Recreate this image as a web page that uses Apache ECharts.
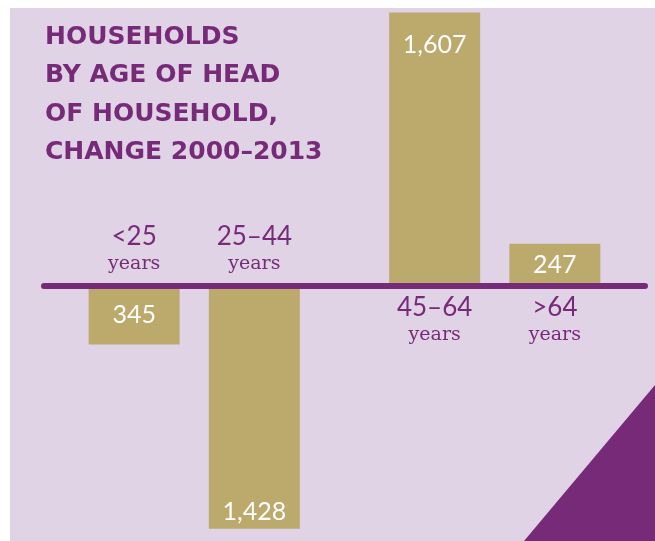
<!DOCTYPE html>
<html>
<head>
<meta charset="utf-8">
<script src="https://cdn.jsdelivr.net/npm/echarts@6/dist/echarts.min.js"></script>
<style>
html,body{margin:0;padding:0;background:#ffffff;}
#chart{width:655px;height:541px;}
</style>
</head>
<body>
<div id="chart"></div>
<script>
// ---- data ----
const titleLines = ['HOUSEHOLDS', 'BY AGE OF HEAD', 'OF HOUSEHOLD,', 'CHANGE 2000–2013'];
const categories = ['<25', '25–44', '45–64', '>64'];
const unitLabel = 'years';
const changeValues = [-345, -1428, 1607, 247];

// ---- layout (not data) ----
const slotCount = 10;
const slotOf = [1, 3, 6, 8];
const labelPlace = ['inside', 'insideBottom', 'insideTop', 'inside'];
const labelGap = [0, 4, 20, 0];

const PURPLE = '#772a77';
const LAV = '#e0d3e6';
const TAN = '#bca96c';

const slots = new Array(slotCount).fill('');
const barData = new Array(slotCount).fill(null);
const nameData = new Array(slotCount).fill(null);
categories.forEach((c, i) => {
  slots[slotOf[i]] = c;
  const v = changeValues[i];
  barData[slotOf[i]] = { value: v, label: { position: labelPlace[i], distance: labelGap[i] } };
  nameData[slotOf[i]] = {
    value: 0,
    label: v < 0 ? { position: 'top', distance: 8 } : { position: 'bottom', distance: 8 }
  };
});

const fmt = n => Math.abs(n).toLocaleString('en-US');

const chart = echarts.init(document.getElementById('chart'));
const rich = {
  a: { fontFamily: 'Lato', fontSize: 26, color: PURPLE, lineHeight: 27, align: 'center' },
  b: { fontFamily: 'DejaVu Serif', fontSize: 19, color: PURPLE, lineHeight: 27, align: 'center' }
};
chart.setOption({
  backgroundColor: '#ffffff',
  animation: false,
  title: {
    text: titleLines.join('\n'),
    left: 45, top: 18, padding: 0,
    textStyle: { fontFamily: 'DejaVu Sans', fontWeight: 'bold', fontSize: 25, lineHeight: 38.5, color: PURPLE }
  },
  graphic: [
    { type: 'rect', shape: { x: 10, y: 8, width: 645, height: 533 }, style: { fill: LAV }, z: -10, silent: true },
    { type: 'polygon', shape: { points: [[524, 541], [655, 385], [655, 541]] }, style: { fill: PURPLE }, z: 100, silent: true }
  ],
  grid: { left: 44, right: 10, top: 0, height: 541, containLabel: false, outerBoundsMode: 'none' },
  xAxis: {
    type: 'category', data: slots, z: 10,
    axisLine: { onZero: true, lineStyle: { color: PURPLE, width: 6 } },
    axisTick: { show: false },
    axisLabel: { show: false }
  },
  yAxis: {
    type: 'value', min: -1500, max: 1680, show: false,
    splitLine: { show: false }
  },
  series: [{
    type: 'bar', data: barData, barWidth: 91,
    itemStyle: { color: TAN },
    label: {
      show: true, color: '#ffffff', fontFamily: 'Lato', fontSize: 25,
      formatter: p => fmt(p.value)
    }
  }, {
    type: 'scatter', data: nameData, symbolSize: 1,
    itemStyle: { color: 'rgba(0,0,0,0)', opacity: 1 },
    label: {
      show: true, color: PURPLE, opacity: 1,
      formatter: p => '{a|' + p.name + '}\n{b|' + unitLabel + '}',
      rich
    }
  }]
});
</script>
</body>
</html>
